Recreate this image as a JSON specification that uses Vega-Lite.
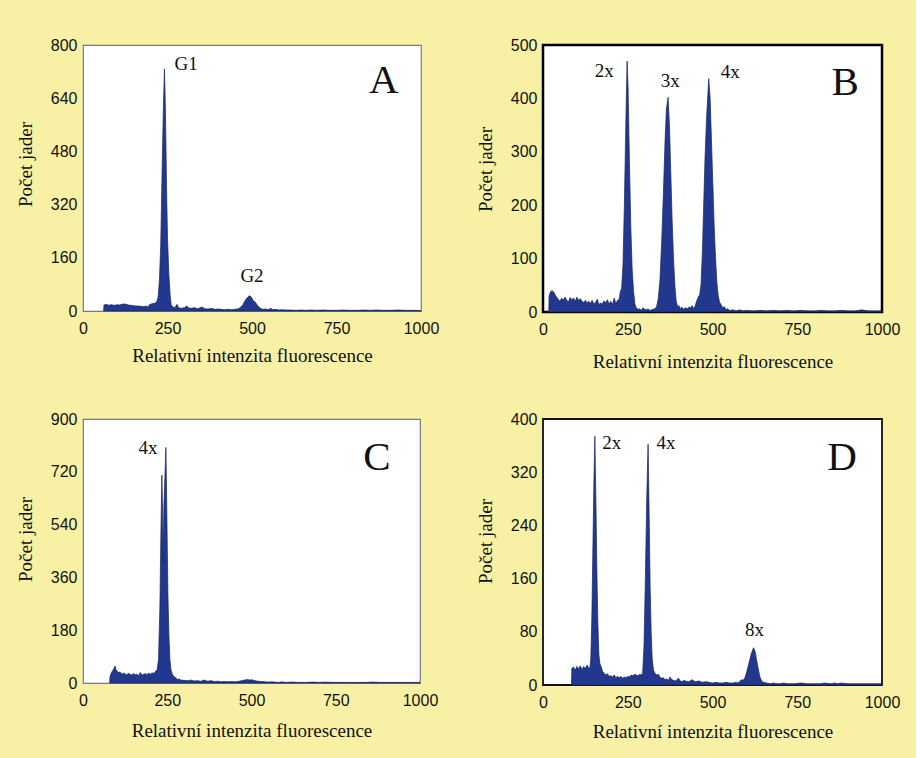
{
  "$schema": "https://vega.github.io/schema/vega-lite/v6.json",
  "background": "#f8f1a5",
  "padding": {"left": 15, "top": 35, "right": 14, "bottom": 16},
  "config": {
    "font": "Liberation Serif",
    "axis": {"labelFont": "Liberation Sans", "labelFontSize": 16, "labelColor": "#111", "labelFlush": false, "labelOverlap": false, "titleFont": "Liberation Serif", "titleFontSize": 19, "titleFontWeight": "normal", "titleColor": "#111", "domain": false, "ticks": false, "grid": false},
    "view": {"fill": "white"},
    "text": {"font": "Liberation Serif", "color": "#111"}
  },
  "datasets": {
    "A": [{"x":61,"y":0},{"x":62,"y":18},{"x":70,"y":20},{"x":76,"y":17},{"x":82,"y":19},{"x":88,"y":18},{"x":95,"y":17},{"x":100,"y":19},{"x":108,"y":18},{"x":115,"y":20},{"x":122,"y":21},{"x":128,"y":20},{"x":135,"y":18},{"x":142,"y":17},{"x":150,"y":16},{"x":157,"y":15},{"x":165,"y":15},{"x":172,"y":14},{"x":180,"y":13},{"x":186,"y":15},{"x":192,"y":12},{"x":198,"y":20},{"x":205,"y":22},{"x":212,"y":23},{"x":218,"y":28},{"x":222,"y":40},{"x":226,"y":90},{"x":230,"y":200},{"x":234,"y":420},{"x":238,"y":620},{"x":241,"y":728},{"x":244,"y":600},{"x":247,"y":380},{"x":250,"y":220},{"x":254,"y":110},{"x":258,"y":45},{"x":261,"y":18},{"x":266,"y":12},{"x":272,"y":10},{"x":278,"y":20},{"x":283,"y":10},{"x":290,"y":8},{"x":300,"y":10},{"x":307,"y":15},{"x":313,"y":9},{"x":320,"y":8},{"x":330,"y":10},{"x":338,"y":7},{"x":345,"y":9},{"x":352,"y":12},{"x":360,"y":7},{"x":370,"y":6},{"x":380,"y":8},{"x":390,"y":5},{"x":400,"y":6},{"x":410,"y":5},{"x":420,"y":4},{"x":430,"y":5},{"x":440,"y":4},{"x":450,"y":5},{"x":460,"y":7},{"x":467,"y":12},{"x":474,"y":20},{"x":480,"y":32},{"x":486,"y":40},{"x":492,"y":46},{"x":498,"y":42},{"x":503,"y":32},{"x":508,"y":28},{"x":513,"y":22},{"x":518,"y":14},{"x":525,"y":8},{"x":532,"y":5},{"x":540,"y":6},{"x":548,"y":4},{"x":555,"y":8},{"x":562,"y":4},{"x":570,"y":5},{"x":580,"y":3},{"x":590,"y":4},{"x":600,"y":3},{"x":615,"y":3},{"x":630,"y":2},{"x":645,"y":3},{"x":660,"y":2},{"x":675,"y":3},{"x":690,"y":2},{"x":710,"y":3},{"x":730,"y":2},{"x":750,"y":2},{"x":770,"y":3},{"x":790,"y":2},{"x":810,"y":2},{"x":830,"y":3},{"x":850,"y":2},{"x":870,"y":3},{"x":890,"y":2},{"x":910,"y":2},{"x":930,"y":3},{"x":950,"y":2},{"x":970,"y":2},{"x":985,"y":2},{"x":1000,"y":1}],
    "B": [{"x":17,"y":0},{"x":18,"y":30},{"x":22,"y":38},{"x":27,"y":40},{"x":32,"y":37},{"x":36,"y":32},{"x":40,"y":28},{"x":45,"y":24},{"x":50,"y":20},{"x":55,"y":26},{"x":60,"y":22},{"x":65,"y":28},{"x":70,"y":22},{"x":75,"y":19},{"x":80,"y":27},{"x":85,"y":23},{"x":90,"y":26},{"x":95,"y":20},{"x":100,"y":28},{"x":105,"y":22},{"x":110,"y":25},{"x":115,"y":20},{"x":120,"y":18},{"x":125,"y":22},{"x":130,"y":17},{"x":135,"y":20},{"x":140,"y":16},{"x":145,"y":22},{"x":150,"y":15},{"x":155,"y":18},{"x":160,"y":24},{"x":165,"y":14},{"x":170,"y":17},{"x":175,"y":15},{"x":180,"y":21},{"x":185,"y":17},{"x":190,"y":23},{"x":195,"y":15},{"x":200,"y":20},{"x":205,"y":14},{"x":210,"y":26},{"x":215,"y":16},{"x":220,"y":22},{"x":225,"y":24},{"x":228,"y":38},{"x":232,"y":45},{"x":236,"y":90},{"x":240,"y":200},{"x":244,"y":340},{"x":248,"y":470},{"x":251,"y":420},{"x":255,"y":280},{"x":259,"y":160},{"x":263,"y":80},{"x":267,"y":40},{"x":271,"y":15},{"x":275,"y":8},{"x":280,"y":5},{"x":285,"y":6},{"x":290,"y":3},{"x":295,"y":8},{"x":300,"y":5},{"x":305,"y":4},{"x":310,"y":6},{"x":315,"y":3},{"x":320,"y":4},{"x":325,"y":5},{"x":330,"y":6},{"x":335,"y":10},{"x":340,"y":25},{"x":345,"y":60},{"x":350,"y":130},{"x":355,"y":220},{"x":360,"y":320},{"x":364,"y":380},{"x":369,"y":402},{"x":373,"y":350},{"x":377,"y":260},{"x":381,"y":170},{"x":385,"y":100},{"x":389,"y":50},{"x":393,"y":20},{"x":397,"y":10},{"x":401,"y":12},{"x":405,"y":6},{"x":410,"y":9},{"x":415,"y":5},{"x":420,"y":8},{"x":425,"y":6},{"x":430,"y":9},{"x":435,"y":8},{"x":440,"y":12},{"x":443,"y":7},{"x":448,"y":10},{"x":453,"y":20},{"x":458,"y":28},{"x":462,"y":32},{"x":466,"y":50},{"x":470,"y":110},{"x":474,"y":200},{"x":478,"y":290},{"x":483,"y":370},{"x":489,"y":437},{"x":493,"y":400},{"x":497,"y":320},{"x":501,"y":240},{"x":505,"y":160},{"x":509,"y":100},{"x":513,"y":55},{"x":517,"y":30},{"x":521,"y":18},{"x":525,"y":14},{"x":530,"y":8},{"x":535,"y":10},{"x":540,"y":4},{"x":545,"y":6},{"x":550,"y":3},{"x":560,"y":4},{"x":570,"y":2},{"x":580,"y":4},{"x":590,"y":2},{"x":600,"y":3},{"x":620,"y":2},{"x":640,"y":3},{"x":660,"y":2},{"x":680,"y":3},{"x":700,"y":2},{"x":720,"y":3},{"x":740,"y":2},{"x":760,"y":3},{"x":780,"y":2},{"x":800,"y":2},{"x":820,"y":3},{"x":840,"y":2},{"x":860,"y":2},{"x":880,"y":3},{"x":900,"y":2},{"x":920,"y":2},{"x":940,"y":4},{"x":960,"y":2},{"x":980,"y":2},{"x":1000,"y":2}],
    "C": [{"x":79,"y":0},{"x":80,"y":20},{"x":84,"y":35},{"x":88,"y":42},{"x":92,"y":50},{"x":95,"y":58},{"x":98,"y":45},{"x":102,"y":40},{"x":106,"y":35},{"x":110,"y":38},{"x":115,"y":30},{"x":120,"y":34},{"x":125,"y":31},{"x":130,"y":28},{"x":135,"y":33},{"x":140,"y":30},{"x":145,"y":27},{"x":150,"y":32},{"x":155,"y":28},{"x":160,"y":30},{"x":165,"y":25},{"x":170,"y":36},{"x":175,"y":27},{"x":180,"y":30},{"x":185,"y":32},{"x":190,"y":28},{"x":195,"y":34},{"x":200,"y":30},{"x":205,"y":35},{"x":210,"y":32},{"x":215,"y":40},{"x":220,"y":45},{"x":224,"y":80},{"x":228,"y":250},{"x":231,"y":500},{"x":234,"y":709},{"x":236,"y":600},{"x":238,"y":410},{"x":240,"y":600},{"x":243,"y":700},{"x":246,"y":803},{"x":249,"y":560},{"x":252,"y":300},{"x":255,"y":160},{"x":258,"y":80},{"x":261,"y":45},{"x":265,"y":30},{"x":270,"y":22},{"x":275,"y":18},{"x":280,"y":12},{"x":285,"y":14},{"x":290,"y":10},{"x":300,"y":9},{"x":310,"y":8},{"x":320,"y":10},{"x":330,"y":7},{"x":340,"y":8},{"x":350,"y":6},{"x":360,"y":10},{"x":370,"y":6},{"x":380,"y":8},{"x":390,"y":5},{"x":400,"y":6},{"x":410,"y":4},{"x":420,"y":5},{"x":430,"y":4},{"x":440,"y":5},{"x":450,"y":4},{"x":460,"y":5},{"x":470,"y":8},{"x":480,"y":10},{"x":488,"y":12},{"x":495,"y":10},{"x":502,"y":11},{"x":510,"y":8},{"x":520,"y":6},{"x":530,"y":5},{"x":540,"y":4},{"x":550,"y":3},{"x":560,"y":4},{"x":570,"y":3},{"x":580,"y":2},{"x":590,"y":4},{"x":600,"y":2},{"x":620,"y":3},{"x":640,"y":2},{"x":660,"y":2},{"x":680,"y":3},{"x":700,"y":2},{"x":720,"y":3},{"x":740,"y":2},{"x":760,"y":2},{"x":780,"y":2},{"x":800,"y":2},{"x":820,"y":2},{"x":840,"y":2},{"x":860,"y":3},{"x":880,"y":2},{"x":900,"y":2},{"x":920,"y":2},{"x":940,"y":2},{"x":960,"y":2},{"x":980,"y":2},{"x":1000,"y":2}],
    "D": [{"x":84,"y":0},{"x":85,"y":25},{"x":90,"y":27},{"x":95,"y":22},{"x":100,"y":28},{"x":105,"y":24},{"x":110,"y":29},{"x":115,"y":23},{"x":120,"y":28},{"x":125,"y":25},{"x":130,"y":30},{"x":135,"y":26},{"x":138,"y":24},{"x":141,"y":40},{"x":144,"y":100},{"x":147,"y":200},{"x":150,"y":300},{"x":153,"y":374},{"x":156,"y":280},{"x":159,"y":170},{"x":162,"y":90},{"x":165,"y":45},{"x":168,"y":32},{"x":172,"y":27},{"x":176,"y":20},{"x":180,"y":18},{"x":185,"y":15},{"x":190,"y":17},{"x":195,"y":13},{"x":200,"y":14},{"x":205,"y":12},{"x":210,"y":15},{"x":215,"y":11},{"x":220,"y":13},{"x":225,"y":11},{"x":230,"y":13},{"x":235,"y":10},{"x":240,"y":12},{"x":245,"y":11},{"x":250,"y":13},{"x":255,"y":12},{"x":260,"y":15},{"x":265,"y":14},{"x":270,"y":16},{"x":275,"y":15},{"x":280,"y":14},{"x":285,"y":16},{"x":290,"y":15},{"x":294,"y":18},{"x":298,"y":60},{"x":302,"y":160},{"x":306,"y":280},{"x":310,"y":362},{"x":313,"y":260},{"x":316,"y":150},{"x":319,"y":80},{"x":322,"y":40},{"x":326,"y":22},{"x":330,"y":18},{"x":335,"y":15},{"x":340,"y":16},{"x":345,"y":12},{"x":350,"y":10},{"x":355,"y":11},{"x":360,"y":8},{"x":365,"y":9},{"x":370,"y":7},{"x":375,"y":12},{"x":380,"y":8},{"x":385,"y":7},{"x":390,"y":6},{"x":395,"y":8},{"x":400,"y":10},{"x":405,"y":6},{"x":410,"y":5},{"x":415,"y":7},{"x":420,"y":6},{"x":430,"y":5},{"x":440,"y":8},{"x":445,"y":6},{"x":450,"y":5},{"x":460,"y":6},{"x":470,"y":4},{"x":480,"y":5},{"x":490,"y":4},{"x":500,"y":3},{"x":510,"y":4},{"x":520,"y":3},{"x":530,"y":3},{"x":540,"y":4},{"x":550,"y":3},{"x":560,"y":3},{"x":570,"y":4},{"x":575,"y":3},{"x":580,"y":5},{"x":585,"y":8},{"x":590,"y":7},{"x":595,"y":10},{"x":600,"y":18},{"x":605,"y":28},{"x":610,"y":38},{"x":615,"y":48},{"x":621,"y":56},{"x":626,"y":50},{"x":630,"y":38},{"x":635,"y":24},{"x":640,"y":12},{"x":645,"y":6},{"x":650,"y":4},{"x":660,"y":3},{"x":670,"y":2},{"x":680,"y":3},{"x":690,"y":2},{"x":700,"y":2},{"x":710,"y":3},{"x":720,"y":2},{"x":740,"y":2},{"x":760,"y":3},{"x":780,"y":2},{"x":800,"y":2},{"x":820,"y":2},{"x":830,"y":3},{"x":850,"y":2},{"x":860,"y":3},{"x":870,"y":2},{"x":880,"y":3},{"x":900,"y":2},{"x":920,"y":2},{"x":940,"y":2},{"x":960,"y":2},{"x":980,"y":2},{"x":1000,"y":2}]
  },
  "columns": 2,
  "spacing": {"column": 122, "row": 107},
  "bounds": "flush",
  "concat": [
    {
      "width": 338, "height": 266,
      "view": {"stroke": "#7a7a7a", "strokeWidth": 1.2, "fill": "white"},
      "layer": [
        {"data": {"name": "A"},
         "mark": {"type": "area", "color": "#22388f", "stroke": "#16245f", "strokeWidth": 0.7},
         "encoding": {
           "x": {"field": "x", "type": "quantitative", "scale": {"domain": [0, 1000], "nice": false}, "axis": {"values": [0, 250, 500, 750, 1000], "format": "d", "title": "Relativní intenzita fluorescence", "labelPadding": 9, "titlePadding": 10}},
           "y": {"field": "y", "type": "quantitative", "scale": {"domain": [0, 800], "nice": false}, "axis": {"values": [0, 160, 320, 480, 640, 800], "title": "Počet jader", "labelPadding": 6, "titlePadding": 15, "titleY": 119}}
         }},
        {"data": {"values": [{"x": 305, "y": 742, "label": "G1"}, {"x": 500, "y": 105, "label": "G2"}]},
         "mark": {"type": "text", "fontSize": 19, "align": "center", "baseline": "middle"},
         "encoding": {"x": {"field": "x", "type": "quantitative"}, "y": {"field": "y", "type": "quantitative"}, "text": {"field": "label"}}},
        {"data": {"values": [{"x": 890, "y": 692, "label": "A"}]},
         "mark": {"type": "text", "fontSize": 41, "align": "center", "baseline": "middle"},
         "encoding": {"x": {"field": "x", "type": "quantitative"}, "y": {"field": "y", "type": "quantitative"}, "text": {"field": "label"}}}
      ]
    },
    {
      "width": 339, "height": 267,
      "view": {"stroke": "#000", "strokeWidth": 2.5, "fill": "white"},
      "layer": [
        {"data": {"name": "B"},
         "mark": {"type": "area", "color": "#22388f", "stroke": "#16245f", "strokeWidth": 0.7},
         "encoding": {
           "x": {"field": "x", "type": "quantitative", "scale": {"domain": [0, 1000], "nice": false}, "axis": {"values": [0, 250, 500, 750, 1000], "format": "d", "title": "Relativní intenzita fluorescence", "labelPadding": 9, "titlePadding": 15}},
           "y": {"field": "y", "type": "quantitative", "scale": {"domain": [0, 500], "nice": false}, "axis": {"values": [0, 100, 200, 300, 400, 500], "title": "Počet jader", "labelPadding": 6, "titlePadding": 15, "titleY": 124}}
         }},
        {"data": {"values": [{"x": 181, "y": 451, "label": "2x"}, {"x": 375, "y": 433, "label": "3x"}, {"x": 552, "y": 449, "label": "4x"}]},
         "mark": {"type": "text", "fontSize": 19, "align": "center", "baseline": "middle"},
         "encoding": {"x": {"field": "x", "type": "quantitative"}, "y": {"field": "y", "type": "quantitative"}, "text": {"field": "label"}}},
        {"data": {"values": [{"x": 891, "y": 429, "label": "B"}]},
         "mark": {"type": "text", "fontSize": 41, "align": "center", "baseline": "middle"},
         "encoding": {"x": {"field": "x", "type": "quantitative"}, "y": {"field": "y", "type": "quantitative"}, "text": {"field": "label"}}}
      ]
    },
    {
      "width": 337, "height": 264,
      "view": {"stroke": "#7a7a7a", "strokeWidth": 1.2, "fill": "white"},
      "layer": [
        {"data": {"name": "C"},
         "mark": {"type": "area", "color": "#22388f", "stroke": "#16245f", "strokeWidth": 0.7},
         "encoding": {
           "x": {"field": "x", "type": "quantitative", "scale": {"domain": [0, 1000], "nice": false}, "axis": {"values": [0, 250, 500, 750, 1000], "format": "d", "title": "Relativní intenzita fluorescence", "labelPadding": 9, "titlePadding": 13}},
           "y": {"field": "y", "type": "quantitative", "scale": {"domain": [0, 900], "nice": false}, "axis": {"values": [0, 180, 360, 540, 720, 900], "title": "Počet jader", "labelPadding": 6, "titlePadding": 15, "titleY": 120}}
         }},
        {"data": {"values": [{"x": 193, "y": 802, "label": "4x"}]},
         "mark": {"type": "text", "fontSize": 19, "align": "center", "baseline": "middle"},
         "encoding": {"x": {"field": "x", "type": "quantitative"}, "y": {"field": "y", "type": "quantitative"}, "text": {"field": "label"}}},
        {"data": {"values": [{"x": 872, "y": 767, "label": "C"}]},
         "mark": {"type": "text", "fontSize": 41, "align": "center", "baseline": "middle"},
         "encoding": {"x": {"field": "x", "type": "quantitative"}, "y": {"field": "y", "type": "quantitative"}, "text": {"field": "label"}}}
      ]
    },
    {
      "width": 339, "height": 266,
      "view": {"stroke": "#111", "strokeWidth": 1.8, "fill": "white"},
      "layer": [
        {"data": {"name": "D"},
         "mark": {"type": "area", "color": "#22388f", "stroke": "#16245f", "strokeWidth": 0.7},
         "encoding": {
           "x": {"field": "x", "type": "quantitative", "scale": {"domain": [0, 1000], "nice": false}, "axis": {"values": [0, 250, 500, 750, 1000], "format": "d", "title": "Relativní intenzita fluorescence", "labelPadding": 9, "titlePadding": 12}},
           "y": {"field": "y", "type": "quantitative", "scale": {"domain": [0, 400], "nice": false}, "axis": {"values": [0, 80, 160, 240, 320, 400], "title": "Počet jader", "labelPadding": 6, "titlePadding": 15, "titleY": 122}}
         }},
        {"data": {"values": [{"x": 203, "y": 364, "label": "2x"}, {"x": 363, "y": 364, "label": "4x"}, {"x": 624, "y": 83, "label": "8x"}]},
         "mark": {"type": "text", "fontSize": 19, "align": "center", "baseline": "middle"},
         "encoding": {"x": {"field": "x", "type": "quantitative"}, "y": {"field": "y", "type": "quantitative"}, "text": {"field": "label"}}},
        {"data": {"values": [{"x": 882, "y": 341, "label": "D"}]},
         "mark": {"type": "text", "fontSize": 41, "align": "center", "baseline": "middle"},
         "encoding": {"x": {"field": "x", "type": "quantitative"}, "y": {"field": "y", "type": "quantitative"}, "text": {"field": "label"}}}
      ]
    }
  ]
}
